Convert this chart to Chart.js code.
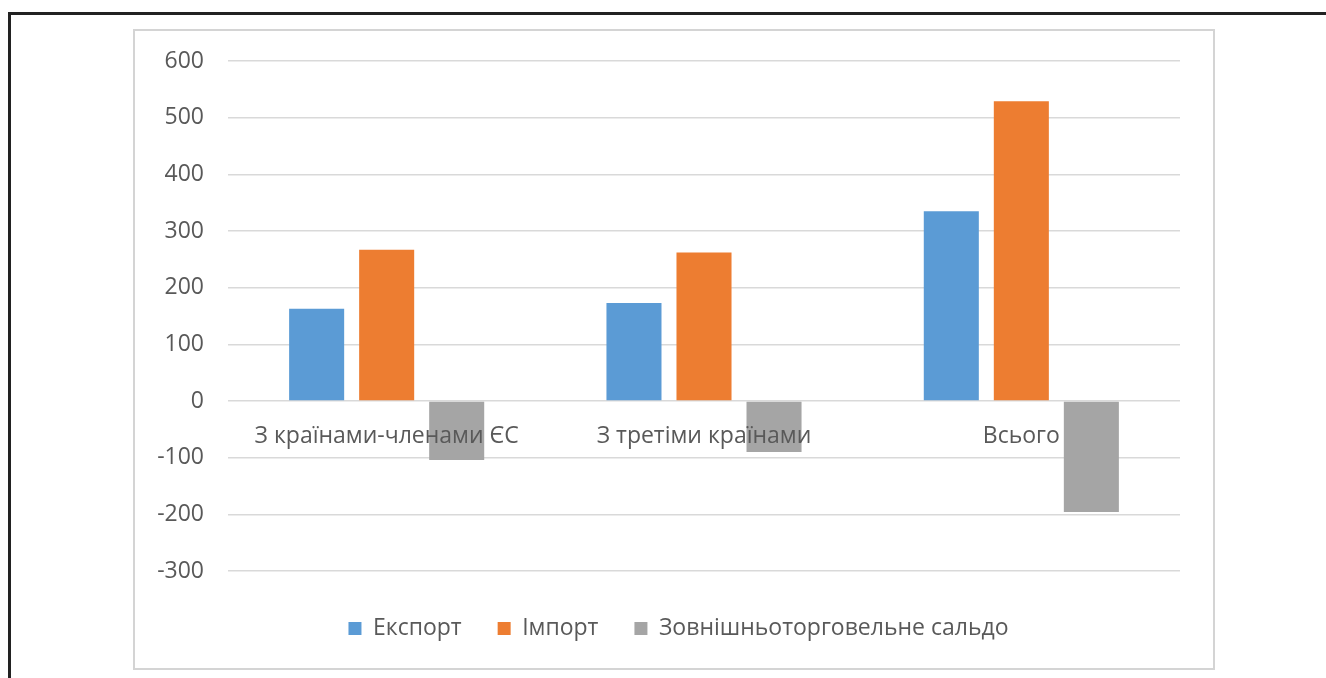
<!DOCTYPE html>
<html>
<head>
<meta charset="utf-8">
<script src="https://cdn.jsdelivr.net/npm/chart.js@4/dist/chart.umd.min.js"></script>
<style>
  html, body { margin: 0; padding: 0; background: #fff; overflow: hidden; }
  #page { position: absolute; left: 8px; top: 12px; width: 1400px; height: 700px; border: 3px solid #222; border-right: none; border-bottom: none; }
  #frame { position: absolute; left: 133px; top: 29px; width: 1078px; height: 637px; border: 2px solid #d4d4d4; }
  #wrap { position: absolute; left: 0; top: 0; width: 1078px; height: 637px; }
</style>
</head>
<body>
<div id="page"></div>
<div id="frame"><div id="wrap"><canvas id="c"></canvas></div></div>
<script>
// categories and series
const categories = ['З країнами-членами ЄС', 'З третіми країнами', 'Всього'];
const exportVals = [163, 173, 335];
const importVals = [267, 262, 529];
const saldoVals = [-104, -90, -196];

const seriesNames = ['Експорт', 'Імпорт', 'Зовнішньоторговельне сальдо'];
const colors = ['#5B9BD5', '#ED7D31', '#A5A5A5'];

const font = 'Open Sans';

// let the y tick labels use the space of the left padding too (they are clipped to the scale box)
const widenY = {
  id: 'widenY',
  afterLayout(chart) { chart.scales.y.left = 0; }
};

new Chart(document.getElementById('c'), {
  type: 'bar',
  data: {
    labels: categories,
    datasets: [exportVals, importVals, saldoVals].map((d, i) => ({
      label: seriesNames[i],
      data: d,
      backgroundColor: colors[i],
      borderWidth: 0,
      categoryPercentage: 0.662,
      barPercentage: 0.786
    }))
  },
  plugins: [widenY],
  options: {
    responsive: true,
    maintainAspectRatio: false,
    animation: false,
    layout: { padding: { top: 30, right: 33, bottom: 18, left: 42 } },
    plugins: {
      tooltip: { enabled: false },
      legend: {
        position: 'bottom',
        // empty title only adds a little space above the legend row
        title: { display: true, text: '', padding: 0, font: { size: 10, lineHeight: 1 } },
        labels: {
          boxWidth: 13, boxHeight: 13, padding: 36,
          color: '#595959',
          font: { family: font, size: 23 }
        }
      }
    },
    scales: {
      x: {
        position: { y: 0 },
        grid: { display: false },
        border: { display: false },
        ticks: { z: 1, color: '#595959', padding: 14, font: { family: font, size: 23 } }
      },
      y: {
        min: -300, max: 600,
        afterFit: s => { s.width = 51; s.paddingTop = 0; s.paddingBottom = 0; },
        grid: { color: '#d9d9d9', lineWidth: 1.5, drawTicks: false },
        border: { display: false },
        ticks: { stepSize: 100, color: '#595959', padding: 24, font: { family: font, size: 23 } }
      }
    }
  }
});
</script>
</body>
</html>
